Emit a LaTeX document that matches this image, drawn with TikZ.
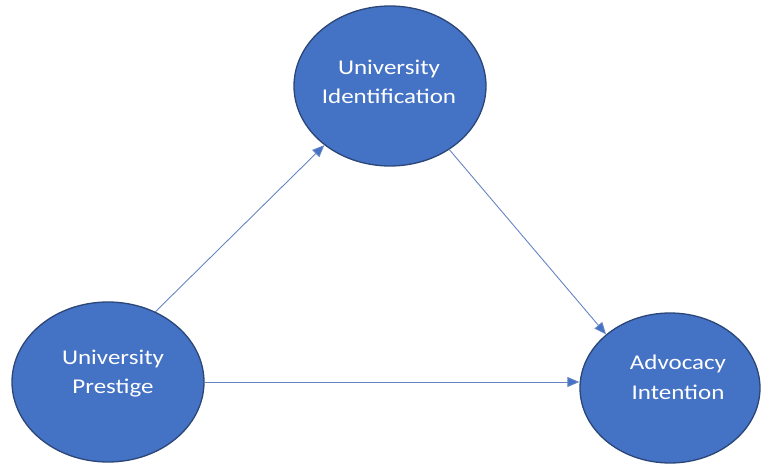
\documentclass[tikz,border=0pt]{standalone}
\usepackage{fontspec}
\setmainfont{Carlito}[FakeStretch=1.19]
\usetikzlibrary{shapes.geometric,arrows.meta}
\definecolor{nodefill}{HTML}{4472C4}
\definecolor{nodeline}{HTML}{2B4677}
\definecolor{arrowcol}{HTML}{6684C4}
\begin{document}
\begin{tikzpicture}[x=1pt,y=-1pt,
  oval/.style={ellipse,draw=nodeline,line width=1.3pt,fill=nodefill,inner sep=0pt,
    minimum width=192pt,minimum height=160pt},
  lbl/.style={text=white,align=center,font=\fontsize{21}{29}\selectfont,inner sep=0pt,anchor=base},
  arr/.style={draw=arrowcol,line width=0.9pt,-{Triangle[length=12pt,width=10pt,fill=nodefill]}}]
\useasboundingbox (0,0) rectangle (761,465);
\node[oval] (ui) at (390,86) {};
\node[oval] (up) at (108,382) {};
\node[oval,minimum width=180pt,minimum height=150pt] (ai) at (670,388) {};
\node[lbl] (uiT) at (389,104) {University\\Identification};
\node[lbl] (upT) at (113,393) {University\\Prestige};
\node[lbl] (aiT) at (678,399) {Advocacy\\Intention};
\draw[arr] (up.56) -- (ui.222);
\draw[arr] (ui.-47) -- (ai.140);
\draw[arr] (up.east) -- (up.east -| ai.west);
\end{tikzpicture}
\end{document}
